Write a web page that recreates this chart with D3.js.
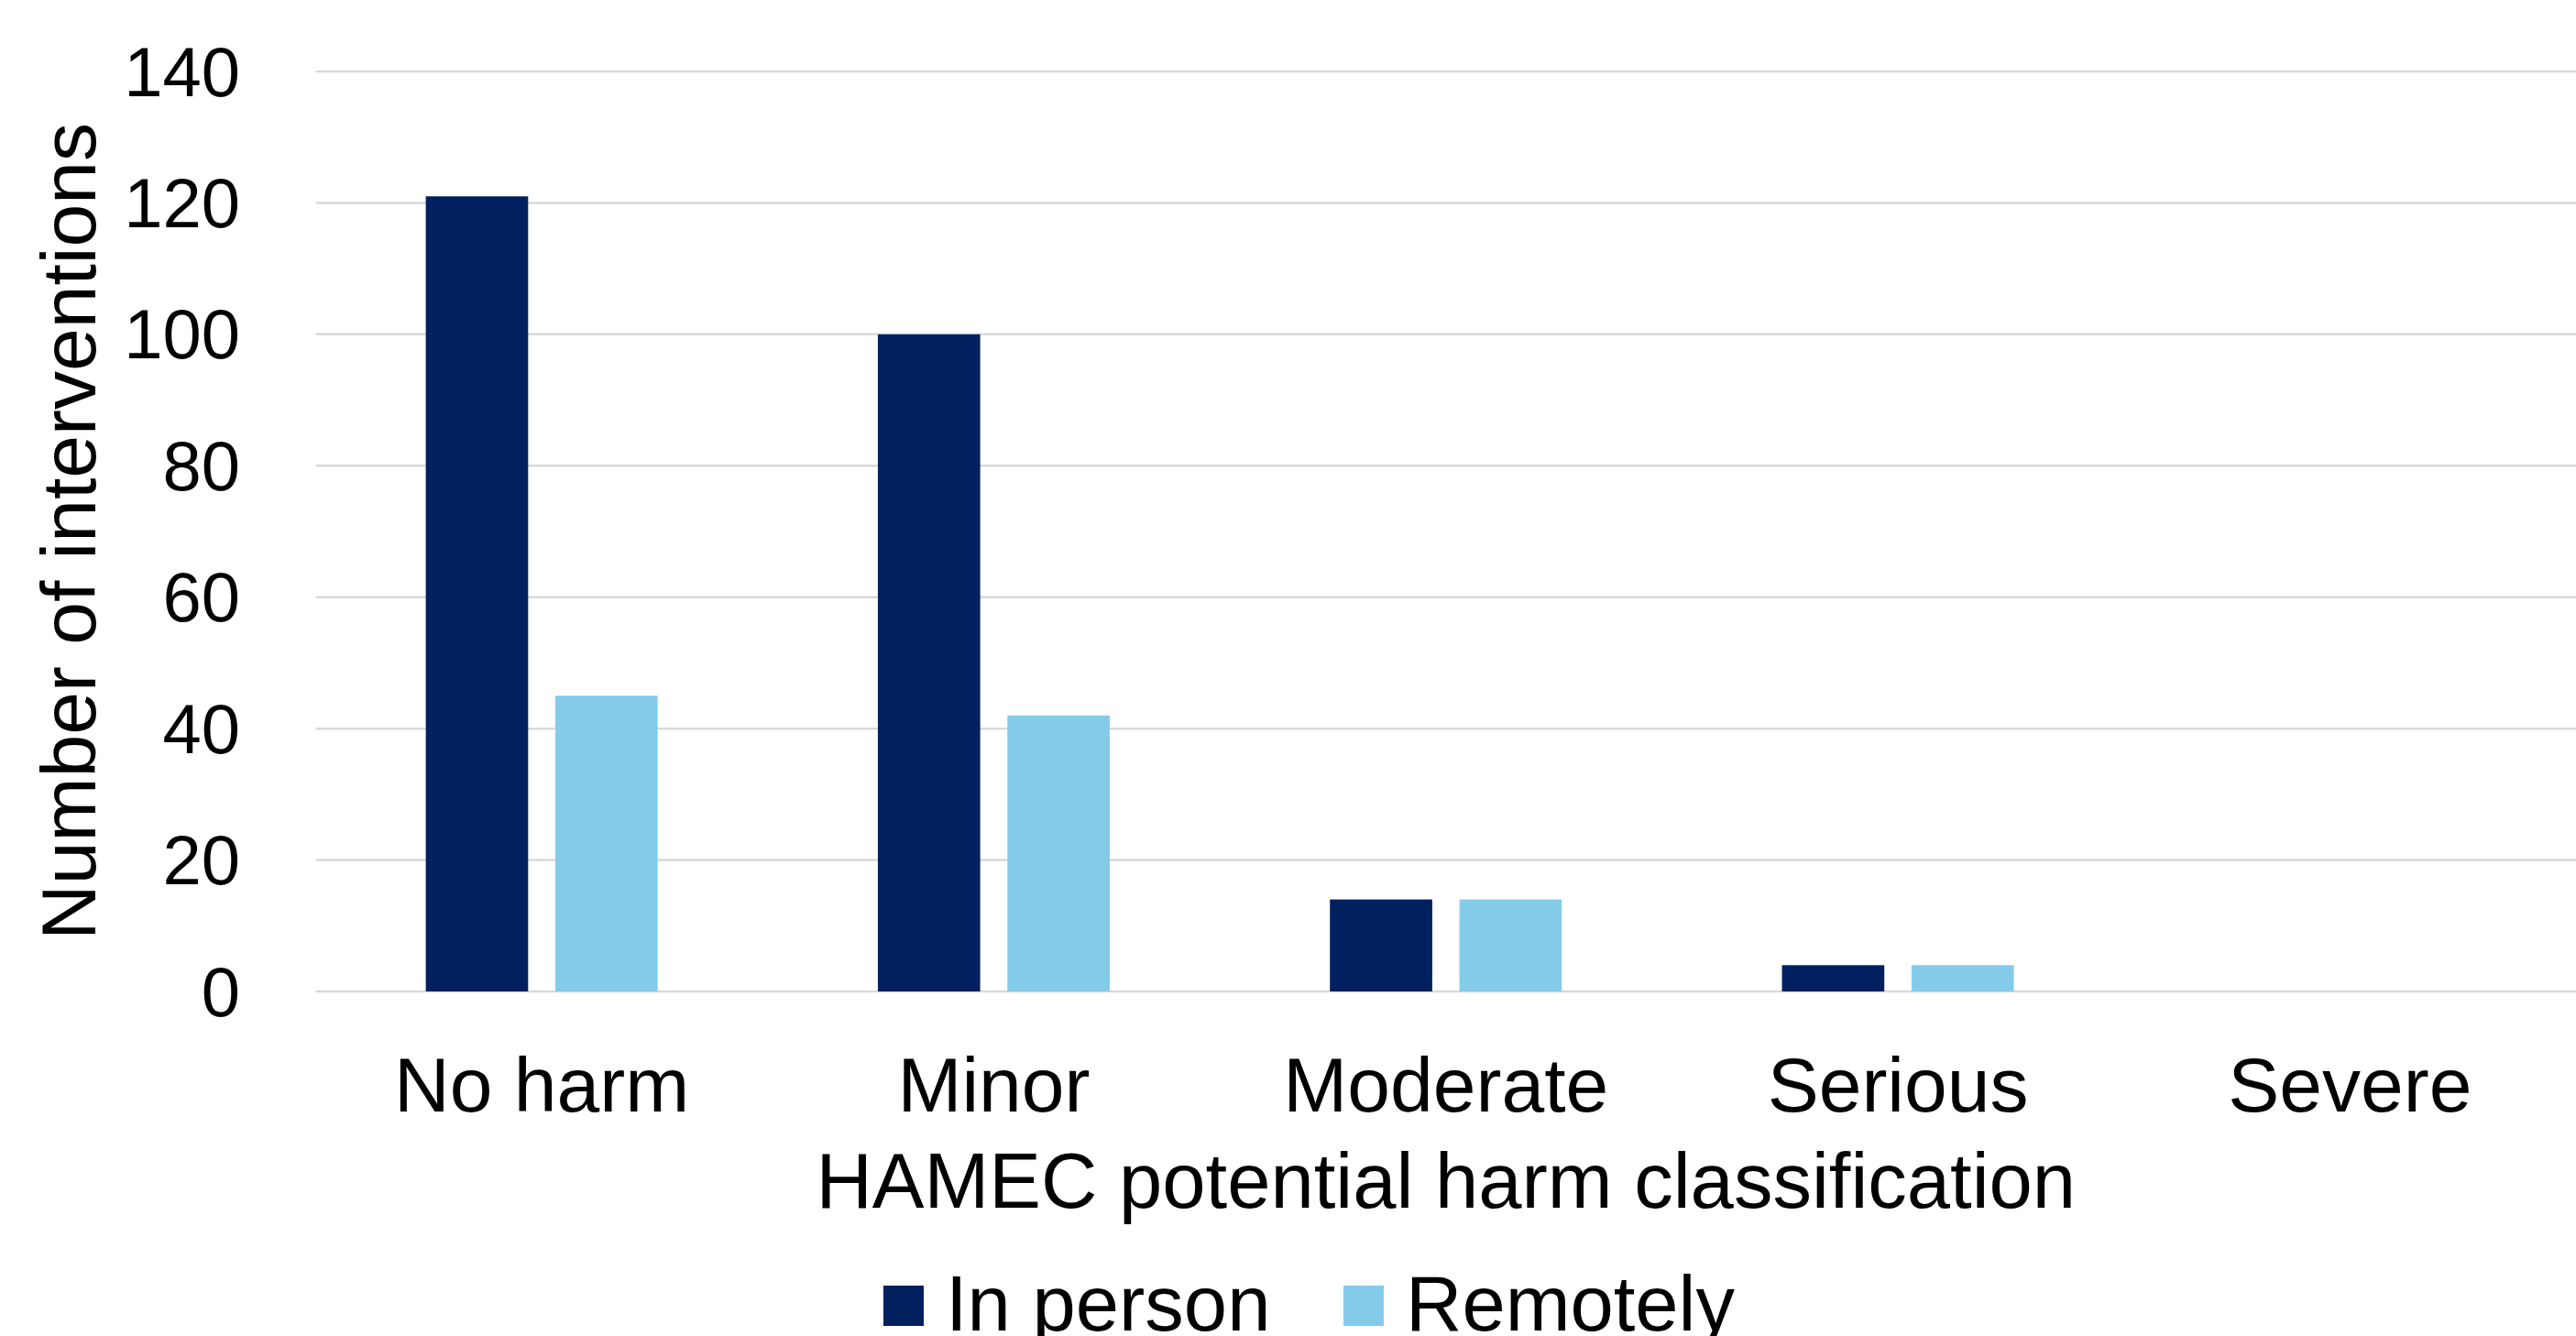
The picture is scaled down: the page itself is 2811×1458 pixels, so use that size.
<!DOCTYPE html>
<html lang="en">

<head>
    <meta charset="UTF-8">
    <title>HAMEC potential harm classification</title>
    <script src="https://d3js.org/d3.v7.min.js"></script>
    <style>
        body {
            margin: 0;
            background: #ffffff;
        }

        svg {
            display: block;
        }
    </style>
</head>

<body>
    <div id="chart-container"></div>
    <script>
        const categories = ["No harm", "Minor", "Moderate", "Serious", "Severe"];
        const seriesNames = ["In person", "Remotely"];
        const inPerson = [121, 100, 14, 4, 0];
        const remotely = [45, 42, 14, 4, 0];
        const yTicks = [0, 20, 40, 60, 80, 100, 120, 140];
        const colors = ["#002060", "#84CBEA"];

        function drawChart(container, w, h) {
            const font = "'Liberation Sans', Arial, sans-serif";
            const left = 344.5, top = 78, bottom = 1082;

            const dataset = categories.map((c, i) => ({
                category: c,
                values: [inPerson[i], remotely[i]]
            }));

            const svg = d3.select(container)
                .append("svg")
                .attr("width", w)
                .attr("height", h)
                .style("font-family", font);

            const xScale = d3.scaleBand()
                .domain(categories)
                .range([left, w])
                .padding(0);

            const xInner = d3.scaleBand()
                .domain(seriesNames)
                .range([0, xScale.bandwidth()])
                .paddingInner(0.21)
                .paddingOuter(0.85);

            const yScale = d3.scaleLinear()
                .domain([0, 140])
                .range([bottom, top]);

            // gridlines
            svg.append("g")
                .selectAll("line")
                .data(yTicks)
                .enter()
                .append("line")
                .attr("x1", left)
                .attr("x2", w)
                .attr("y1", d => yScale(d))
                .attr("y2", d => yScale(d))
                .attr("stroke", "#D9D9D9")
                .attr("stroke-width", 2.5);

            // y tick labels
            svg.append("g")
                .selectAll("text")
                .data(yTicks)
                .enter()
                .append("text")
                .attr("x", 262)
                .attr("y", d => yScale(d))
                .attr("dy", "0.35em")
                .attr("text-anchor", "end")
                .attr("font-size", "76px")
                .attr("fill", "#000000")
                .text(d => d);

            // bars
            const groups = svg.append("g")
                .selectAll("g")
                .data(dataset)
                .enter()
                .append("g")
                .attr("transform", d => `translate(${xScale(d.category)},0)`);

            groups.selectAll("rect")
                .data(d => d.values.map((v, i) => ({ name: seriesNames[i], value: v, color: colors[i] })))
                .enter()
                .append("rect")
                .attr("x", d => xInner(d.name))
                .attr("y", d => yScale(d.value))
                .attr("width", xInner.bandwidth())
                .attr("height", d => yScale(0) - yScale(d.value))
                .attr("fill", d => d.color);

            // category labels
            svg.append("g")
                .selectAll("text")
                .data(categories)
                .enter()
                .append("text")
                .attr("x", d => xScale(d) + xScale.bandwidth() / 2)
                .attr("y", 1213)
                .attr("text-anchor", "middle")
                .attr("font-size", "84px")
                .attr("fill", "#000000")
                .text(d => d);

            // x axis label
            svg.append("text")
                .attr("x", (left + w) / 2)
                .attr("y", 1318)
                .attr("text-anchor", "middle")
                .attr("font-size", "85px")
                .attr("fill", "#000000")
                .text("HAMEC potential harm classification");

            // y axis label
            svg.append("text")
                .attr("x", -(top + bottom) / 2)
                .attr("y", 104)
                .attr("text-anchor", "middle")
                .attr("font-size", "84px")
                .attr("fill", "#000000")
                .attr("transform", "rotate(-90)")
                .text("Number of interventions");

            // legend
            const legendX = [964, 1466];
            const legend = svg.append("g")
                .selectAll("g")
                .data(seriesNames)
                .enter()
                .append("g")
                .attr("transform", (d, i) => `translate(${legendX[i]},0)`);

            legend.append("rect")
                .attr("x", 0)
                .attr("y", 1403)
                .attr("width", 44)
                .attr("height", 44)
                .attr("fill", (d, i) => colors[i]);

            legend.append("text")
                .attr("x", 68)
                .attr("y", 1452)
                .attr("font-size", "85px")
                .attr("fill", "#000000")
                .text(d => d);
        }

        drawChart("#chart-container", 2811, 1458);
    </script>
</body>

</html>
